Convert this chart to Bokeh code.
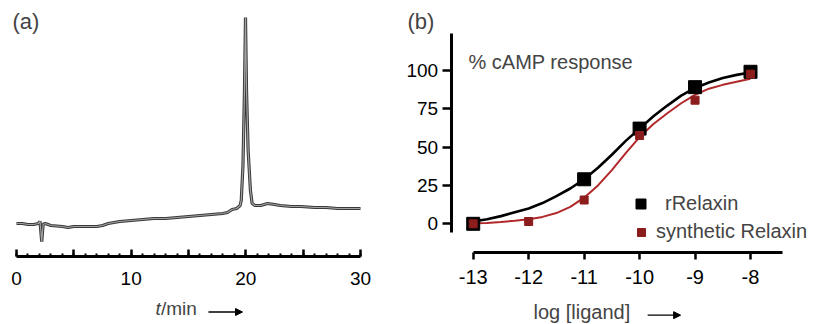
from bokeh.plotting import figure
from bokeh.layouts import row
from bokeh.models import (FixedTicker, Label, Arrow, NormalHead, Range1d, Legend, LegendItem,
                          LinearAxis)
from bokeh.embed import file_html
from bokeh.resources import INLINE

FONT = "Liberation Sans"

# ---------------- Panel (a): HPLC trace ----------------
time_min = [0, 0.5, 1, 1.5, 1.9, 2.05, 2.2, 2.32, 2.5, 3, 4, 4.5, 5, 6, 7, 7.5, 8, 9, 10, 11, 12, 13,
            14, 15, 16, 17, 18, 18.4, 18.8, 19.2, 19.5, 19.6, 19.75, 19.88, 19.97, 20.06, 20.2,
            20.4, 20.55, 20.8, 21.3, 21.9, 22.5, 23, 24, 24.8, 26, 27, 28, 29, 30]
signal = [33, 33, 32, 32, 33, 35, 15, 32, 33, 31, 30, 29, 30, 30, 30, 31, 33, 35, 36, 37, 38, 38,
          39, 40, 41, 42, 43, 44, 47, 48, 51, 56, 91, 166, 239, 166, 106,
          66, 53, 51, 51, 53, 52, 51, 50, 50, 49, 49, 48, 48, 48]

# ---------------- Panel (b): cAMP dose response ----------------
log_ligand = [-13, -12, -11, -10, -9, -8]
rrelaxin_x = [-13, -11, -10, -9, -8]
rrelaxin_y = [0, 29, 62, 89, 99]
synthetic_y = [0, 1.5, 15.5, 57.5, 80.5, 97.5]

fit_x = [-13, -12.75, -12.5, -12.25, -12, -11.75, -11.5, -11.25, -11, -10.75, -10.5,
         -10.25, -10, -9.75, -9.5, -9.25, -9, -8.75, -8.5, -8.25, -8]
rrelaxin_fit = [1.5, 3, 5, 7.5, 10, 13.5, 18, 23, 29, 36.5, 45, 54, 62, 70, 77, 83.5, 88.5,
                92, 95, 97, 98.5]
synthetic_fit = [0.3, 0.6, 1.2, 2, 3, 4.5, 7, 11, 17, 25, 35, 46, 56.5, 65, 72, 78.5, 84,
                 88, 90.5, 92.5, 94.5]

y_ticks = [0, 25, 50, 75, 100]
t_major = [0, 5, 10, 15, 20, 25, 30]
t_labels = {0: "0", 5: "", 10: "10", 15: "", 20: "20", 25: "", 30: "30"}
t_minor = list(range(0, 31))


def style_axis(ax, size):
    ax.axis_line_width = 3
    ax.major_tick_line_width = 2.5
    ax.minor_tick_line_width = 2
    ax.major_label_text_font = FONT
    ax.major_label_text_font_size = size
    ax.major_label_text_color = "black"


# ======== figure (a) ========
pa = figure(width=400, height=324, x_range=Range1d(-1.3953, 33.488), y_range=Range1d(-68, 256),
            x_axis_location=None, y_axis_location=None, toolbar_location=None,
            output_backend="svg", min_border=0)
pa.grid.visible = False
pa.outline_line_color = None
xa = LinearAxis(fixed_location=0, bounds=(0, 30),
                ticker=FixedTicker(ticks=t_major, minor_ticks=t_minor),
                major_label_overrides=t_labels)
xa.major_tick_in = 7
xa.major_tick_out = 0
xa.minor_tick_in = 3
xa.minor_tick_out = 0
xa.major_label_standoff = 15
style_axis(xa, "19px")
pa.add_layout(xa, "below")

pa.line(time_min, signal, color="#3a3a3a", line_width=3.2)
pa.line(time_min, signal, color="#a2a2a2", line_width=1.2)

pa.add_layout(Label(x=-0.349, y=235.5, text="(a)", text_font=FONT, text_font_size="22px",
                    text_baseline="alphabetic"))
pa.add_layout(Label(x=12.12, y=-52, text="t", text_font=FONT, text_font_size="19px",
                    text_font_style="italic", text_baseline="alphabetic"))
pa.add_layout(Label(x=12.6, y=-52, text="/min", text_font=FONT, text_font_size="19px",
                    text_baseline="alphabetic"))
pa.add_layout(Arrow(x_start=16.74, x_end=19.71, y_start=-55.5, y_end=-55.5, line_width=1.3,
                    end=NormalHead(size=7, fill_color="black", line_color="black")))

# ======== figure (b) ========
pb = figure(width=416, height=324, x_range=Range1d(-14.311, -6.810), y_range=Range1d(-65.58, 145.43),
            x_axis_location=None, y_axis_location=None, toolbar_location=None,
            output_backend="svg", min_border=0)
pb.grid.visible = False
pb.outline_line_color = None

xb = LinearAxis(fixed_location=-18.5, bounds=(-13, -7.43),
                ticker=FixedTicker(ticks=log_ligand, minor_ticks=[]),
                major_label_overrides={v: str(v) for v in log_ligand})
xb.major_tick_in = 0
xb.major_tick_out = 7
xb.major_label_standoff = 11
style_axis(xb, "20px")
pb.add_layout(xb, "below")

yb = LinearAxis(fixed_location=-13.397, bounds=(-5.5, 124),
                ticker=FixedTicker(ticks=y_ticks, minor_ticks=[]))
yb.major_tick_in = 0
yb.major_tick_out = 9
yb.major_label_standoff = 4
style_axis(yb, "19px")
pb.add_layout(yb, "left")

pb.line(fit_x, rrelaxin_fit, color="black", line_width=2.6)
pb.line(fit_x, synthetic_fit, color="#b0282a", line_width=2)
r_black = pb.scatter(rrelaxin_x, rrelaxin_y, marker="square", size=13, color="black")
r_red = pb.scatter(log_ligand, synthetic_y, marker="square", size=8, color="#8c1d1d")

leg1 = Legend(items=[LegendItem(label="rRelaxin", renderers=[r_black])], location=(228, 108),
              glyph_width=25, glyph_height=25, label_standoff=12, padding=0, margin=0,
              spacing=0, border_line_color=None, background_fill_alpha=0,
              label_text_font=FONT, label_text_font_size="20px")
leg2 = Legend(items=[LegendItem(label="synthetic Relaxin", renderers=[r_red])], location=(231, 81),
              glyph_width=20, glyph_height=20, label_standoff=5, padding=0, margin=0,
              spacing=0, border_line_color=None, background_fill_alpha=0,
              label_text_font=FONT, label_text_font_size="20px")
pb.add_layout(leg1)
pb.add_layout(leg2)

pb.add_layout(Label(x=-14.185, y=131.7, text="(b)", text_font=FONT, text_font_size="22px",
                    text_baseline="alphabetic"))
pb.add_layout(Label(x=-13.085, y=105.2, text="% cAMP response", text_font=FONT,
                    text_font_size="20px", text_baseline="alphabetic"))
pb.add_layout(Label(x=-11.913, y=-57.3, text="log [ligand]", text_font=FONT,
                    text_font_size="20px", text_baseline="alphabetic"))
pb.add_layout(Arrow(x_start=-9.855, x_end=-9.26, y_start=-59.5, y_end=-59.5, line_width=1.3,
                    end=NormalHead(size=7, fill_color="black", line_color="black")))

layout = row(pa, pb)
open("out.html", "w").write(file_html(layout, INLINE))
